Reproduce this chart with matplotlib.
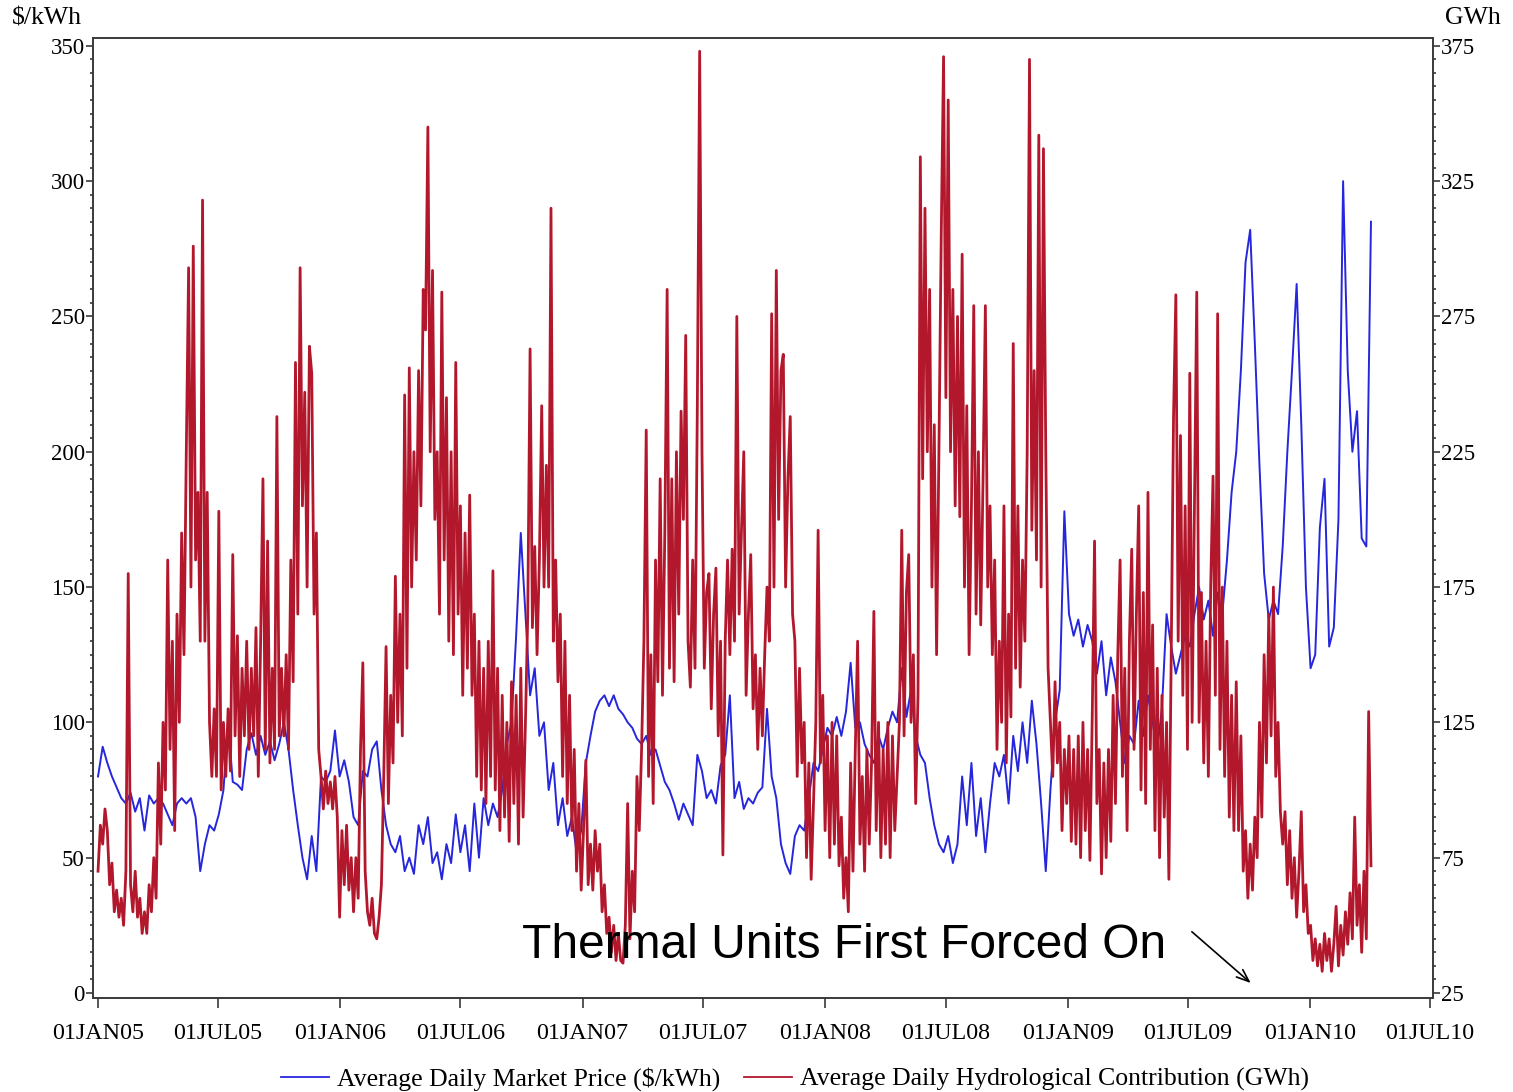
import matplotlib
matplotlib.use('Agg')
import matplotlib.pyplot as plt
import matplotlib.dates as mdates
from matplotlib.ticker import MultipleLocator
import pandas as pd


START = '2005-01-01'

# weekly average market price, $/kWh
PRICE = [
    80, 91, 85, 80, 76,
    72, 70, 74, 67, 72,
    60, 73, 70, 72, 70,
    66, 62, 70, 72, 70,
    72, 65, 45, 55, 62,
    60, 66, 75, 100, 78,
    77, 75, 90, 96, 88,
    95, 88, 93, 86, 92,
    100, 90, 75, 62, 50,
    42, 58, 45, 80, 78,
    82, 97, 80, 86, 78,
    65, 62, 82, 80, 90,
    93, 75, 62, 55, 52,
    58, 45, 50, 44, 62,
    55, 65, 48, 52, 42,
    55, 48, 66, 52, 62,
    45, 70, 50, 72, 62,
    70, 65, 75, 92, 100,
    132, 170, 140, 110, 120,
    95, 100, 75, 85, 62,
    72, 58, 65, 52, 60,
    85, 95, 104, 108, 110,
    106, 110, 105, 103, 100,
    98, 94, 92, 95, 88,
    90, 84, 78, 75, 70,
    64, 70, 66, 62, 88,
    82, 72, 75, 70, 84,
    88, 110, 72, 78, 68,
    72, 70, 74, 76, 105,
    80, 72, 55, 48, 44,
    58, 62, 60, 72, 85,
    82, 90, 98, 95, 102,
    95, 104, 122, 98, 100,
    92, 88, 85, 95, 90,
    98, 104, 100, 120, 102,
    112, 95, 88, 85, 72,
    62, 55, 52, 58, 48,
    55, 80, 62, 85, 58,
    72, 52, 70, 85, 80,
    88, 70, 95, 82, 100,
    85, 108, 92, 70, 45,
    75, 100, 112, 178, 140,
    132, 138, 128, 136, 130,
    118, 130, 110, 124, 115,
    100, 85, 95, 92, 108,
    95, 110, 100, 90, 105,
    140, 128, 118, 125, 132,
    128, 140, 150, 138, 145,
    132, 148, 140, 160, 185,
    200, 230, 270, 282, 240,
    195, 155, 138, 145, 140,
    165, 200, 230, 262, 210,
    150, 120, 125, 172, 190,
    128, 135, 175, 300, 230,
    200, 215, 168, 165, 285,
]

# twice-weekly hydrological contribution, GWh
HYDRO = [
    70, 87, 80, 93, 85, 65, 73, 55, 63, 53,
    60, 50, 70, 180, 65, 55, 70, 53, 60, 47,
    55, 47, 65, 55, 75, 60, 110, 80, 125, 100,
    185, 115, 155, 85, 165, 125, 195, 150, 225, 293,
    175, 301, 185, 210, 155, 318, 155, 210, 125, 105,
    130, 105, 203, 100, 125, 105, 130, 107, 187, 120,
    157, 105, 145, 120, 155, 115, 145, 120, 160, 105,
    155, 215, 115, 192, 110, 145, 115, 238, 120, 145,
    120, 150, 115, 185, 140, 258, 165, 293, 205, 247,
    175, 264, 254, 165, 195, 115, 105, 93, 107, 95,
    103, 93, 105, 90, 53, 85, 65, 87, 63, 75,
    55, 75, 60, 115, 147, 70, 55, 50, 60, 47,
    45, 53, 65, 105, 153, 95, 135, 110, 179, 125,
    165, 120, 246, 145, 256, 175, 225, 185, 255, 205,
    285, 270, 345, 225, 292, 200, 225, 165, 284, 185,
    245, 155, 225, 150, 258, 165, 205, 135, 195, 145,
    209, 135, 165, 105, 155, 100, 145, 95, 155, 105,
    181, 100, 145, 85, 135, 90, 125, 81, 140, 95,
    135, 80, 145, 90, 125, 165, 263, 160, 190, 150,
    185, 242, 175, 220, 175, 315, 155, 185, 140, 165,
    105, 155, 95, 135, 85, 115, 70, 95, 63, 85,
    111, 65, 80, 63, 85, 70, 80, 55, 65, 47,
    53, 40, 50, 37, 47, 37, 36, 50, 95, 45,
    70, 55, 105, 85, 115, 155, 233, 105, 150, 95,
    185, 140, 215, 135, 195, 285, 145, 215, 140, 225,
    165, 240, 200, 268, 155, 138, 185, 145, 242, 373,
    225, 145, 173, 180, 130, 165, 182, 120, 155, 76,
    155, 185, 150, 189, 155, 275, 165, 196, 225, 135,
    165, 187, 130, 150, 115, 145, 120, 150, 175, 155,
    276, 175, 292, 200, 255, 261, 175, 215, 238, 165,
    155, 105, 145, 110, 125, 75, 110, 67, 95, 125,
    196, 110, 135, 85, 120, 75, 125, 80, 120, 72,
    90, 60, 75, 55, 110, 70, 115, 155, 80, 105,
    70, 115, 80, 110, 166, 85, 125, 75, 115, 80,
    125, 75, 120, 85, 105, 125, 196, 120, 173, 187,
    125, 150, 95, 135, 334, 215, 315, 225, 285, 175,
    235, 150, 225, 305, 371, 245, 355, 225, 285, 205,
    275, 201, 298, 175, 242, 150, 205, 279, 165, 225,
    161, 215, 279, 175, 205, 150, 185, 115, 155, 125,
    205, 110, 165, 127, 265, 145, 205, 138, 185, 155,
    225, 370, 196, 255, 185, 342, 175, 337, 225, 145,
    125, 105, 140, 110, 125, 85, 115, 95, 120, 81,
    115, 80, 120, 75, 125, 85, 115, 74, 127, 192,
    95, 115, 69, 110, 75, 115, 81, 135, 95, 150,
    185, 105, 145, 85, 155, 189, 115, 165, 205, 100,
    173, 95, 210, 115, 161, 85, 145, 75, 135, 90,
    125, 67, 150, 238, 283, 155, 231, 135, 205, 115,
    254, 125, 205, 284, 125, 173, 110, 155, 105, 175,
    216, 135, 276, 115, 175, 105, 155, 90, 135, 85,
    140, 85, 120, 70, 85, 60, 80, 63, 90, 75,
    125, 90, 150, 110, 165, 120, 175, 105, 125, 92,
    80, 92, 65, 85, 60, 75, 53, 70, 92, 55,
    65, 47, 50, 37, 45, 35, 43, 33, 47, 37,
    45, 33, 43, 57, 35, 50, 39, 55, 43, 62,
    45, 90, 50, 65, 40, 70, 45, 129, 72,
]

TICK_DATES = ['2005-01-01', '2005-07-01', '2006-01-01', '2006-07-01',
              '2007-01-01', '2007-07-01', '2008-01-01', '2008-07-01',
              '2009-01-01', '2009-07-01', '2010-01-01', '2010-07-01']
TICK_LABELS = ['01JAN05', '01JUL05', '01JAN06', '01JUL06', '01JAN07', '01JUL07',
               '01JAN08', '01JUL08', '01JAN09', '01JUL09', '01JAN10', '01JUL10']

BLUE = '#2626DC'
RED = '#B3172C'
SERIF = ['Liberation Serif', 'DejaVu Serif']


def style_axis(ax):
    for s in ax.spines.values():
        s.set_color('#3a3a3a')
        s.set_linewidth(1.2)
    ax.tick_params(axis='y', which='major', direction='out', length=5, width=1.2,
                   color='#3a3a3a', labelsize=16.5, pad=1)
    ax.tick_params(axis='y', which='minor', direction='out', length=2.5, width=1.2,
                   color='#3a3a3a')
    for lbl in ax.get_yticklabels():
        lbl.set_family(SERIF)


def main():
    fig = plt.figure(figsize=(15.13, 10.92), dpi=100)
    ax = fig.add_axes([0.0615, 0.0861, 0.8856, 0.8791])
    ax2 = ax.twinx()

    t0 = pd.Timestamp(START)
    price_dates = pd.date_range(t0, periods=len(PRICE), freq='7D')
    hydro_dates = pd.date_range(t0, periods=len(HYDRO), freq='84h')

    ln1, = ax.plot(price_dates, PRICE, color=BLUE, lw=1.4)
    ln2, = ax2.plot(hydro_dates, HYDRO, color=RED, lw=2.0)

    ax.set_ylim(-1.85, 352.9)
    ax2.set_ylim(23.15, 377.9)
    ax.yaxis.set_major_locator(MultipleLocator(50))
    ax.yaxis.set_minor_locator(MultipleLocator(5))
    ax2.set_yticks(list(range(25, 376, 50)))
    ax2.yaxis.set_minor_locator(MultipleLocator(5))

    x0 = mdates.date2num(t0)
    ax.set_xlim(x0 - 7.5, x0 + 2011.4)
    ticks = [mdates.date2num(pd.Timestamp(d)) for d in TICK_DATES]
    ax.set_xticks(ticks)
    ax.set_xticklabels(TICK_LABELS, family=SERIF, fontsize=17.3)
    ax.tick_params(axis='x', direction='out', length=7, width=1.2,
                   color='#3a3a3a', pad=11)

    style_axis(ax)
    style_axis(ax2)

    fig.text(0.008, 1 - 18 / 1092, r'\$/kWh', family=SERIF, fontsize=18.5,
             ha='left', va='center')
    fig.text(0.955, 1 - 18 / 1092, 'GWh', family=SERIF, fontsize=18.5,
             ha='left', va='center')

    fig.text(522 / 1513, 1 - 958 / 1092, 'Thermal Units First Forced On',
             family=['Liberation Sans', 'DejaVu Sans'], fontsize=34.5,
             ha='left', va='baseline')
    ax.annotate('', xy=(x0 + 1740, 3), xytext=(x0 + 1645, 23.3),
                arrowprops=dict(arrowstyle='->,head_length=0.9,head_width=0.35',
                                color='black', lw=1.2))

    fig.legend([ln1, ln2],
               ['Average Daily Market Price (\\$/kWh)',
                'Average Daily Hydrological Contribution (GWh)'],
               loc='center', bbox_to_anchor=(0.5255, 0.0118), ncol=2,
               frameon=False, prop={'family': SERIF, 'size': 18.5},
               handlelength=1.87, handletextpad=0.31, columnspacing=0.93)
    for line in fig.legends[0].get_lines():
        line.set_linewidth(1.3)

    fig.savefig('out.png', dpi=100)
    plt.close(fig)


if __name__ == '__main__':
    main()
